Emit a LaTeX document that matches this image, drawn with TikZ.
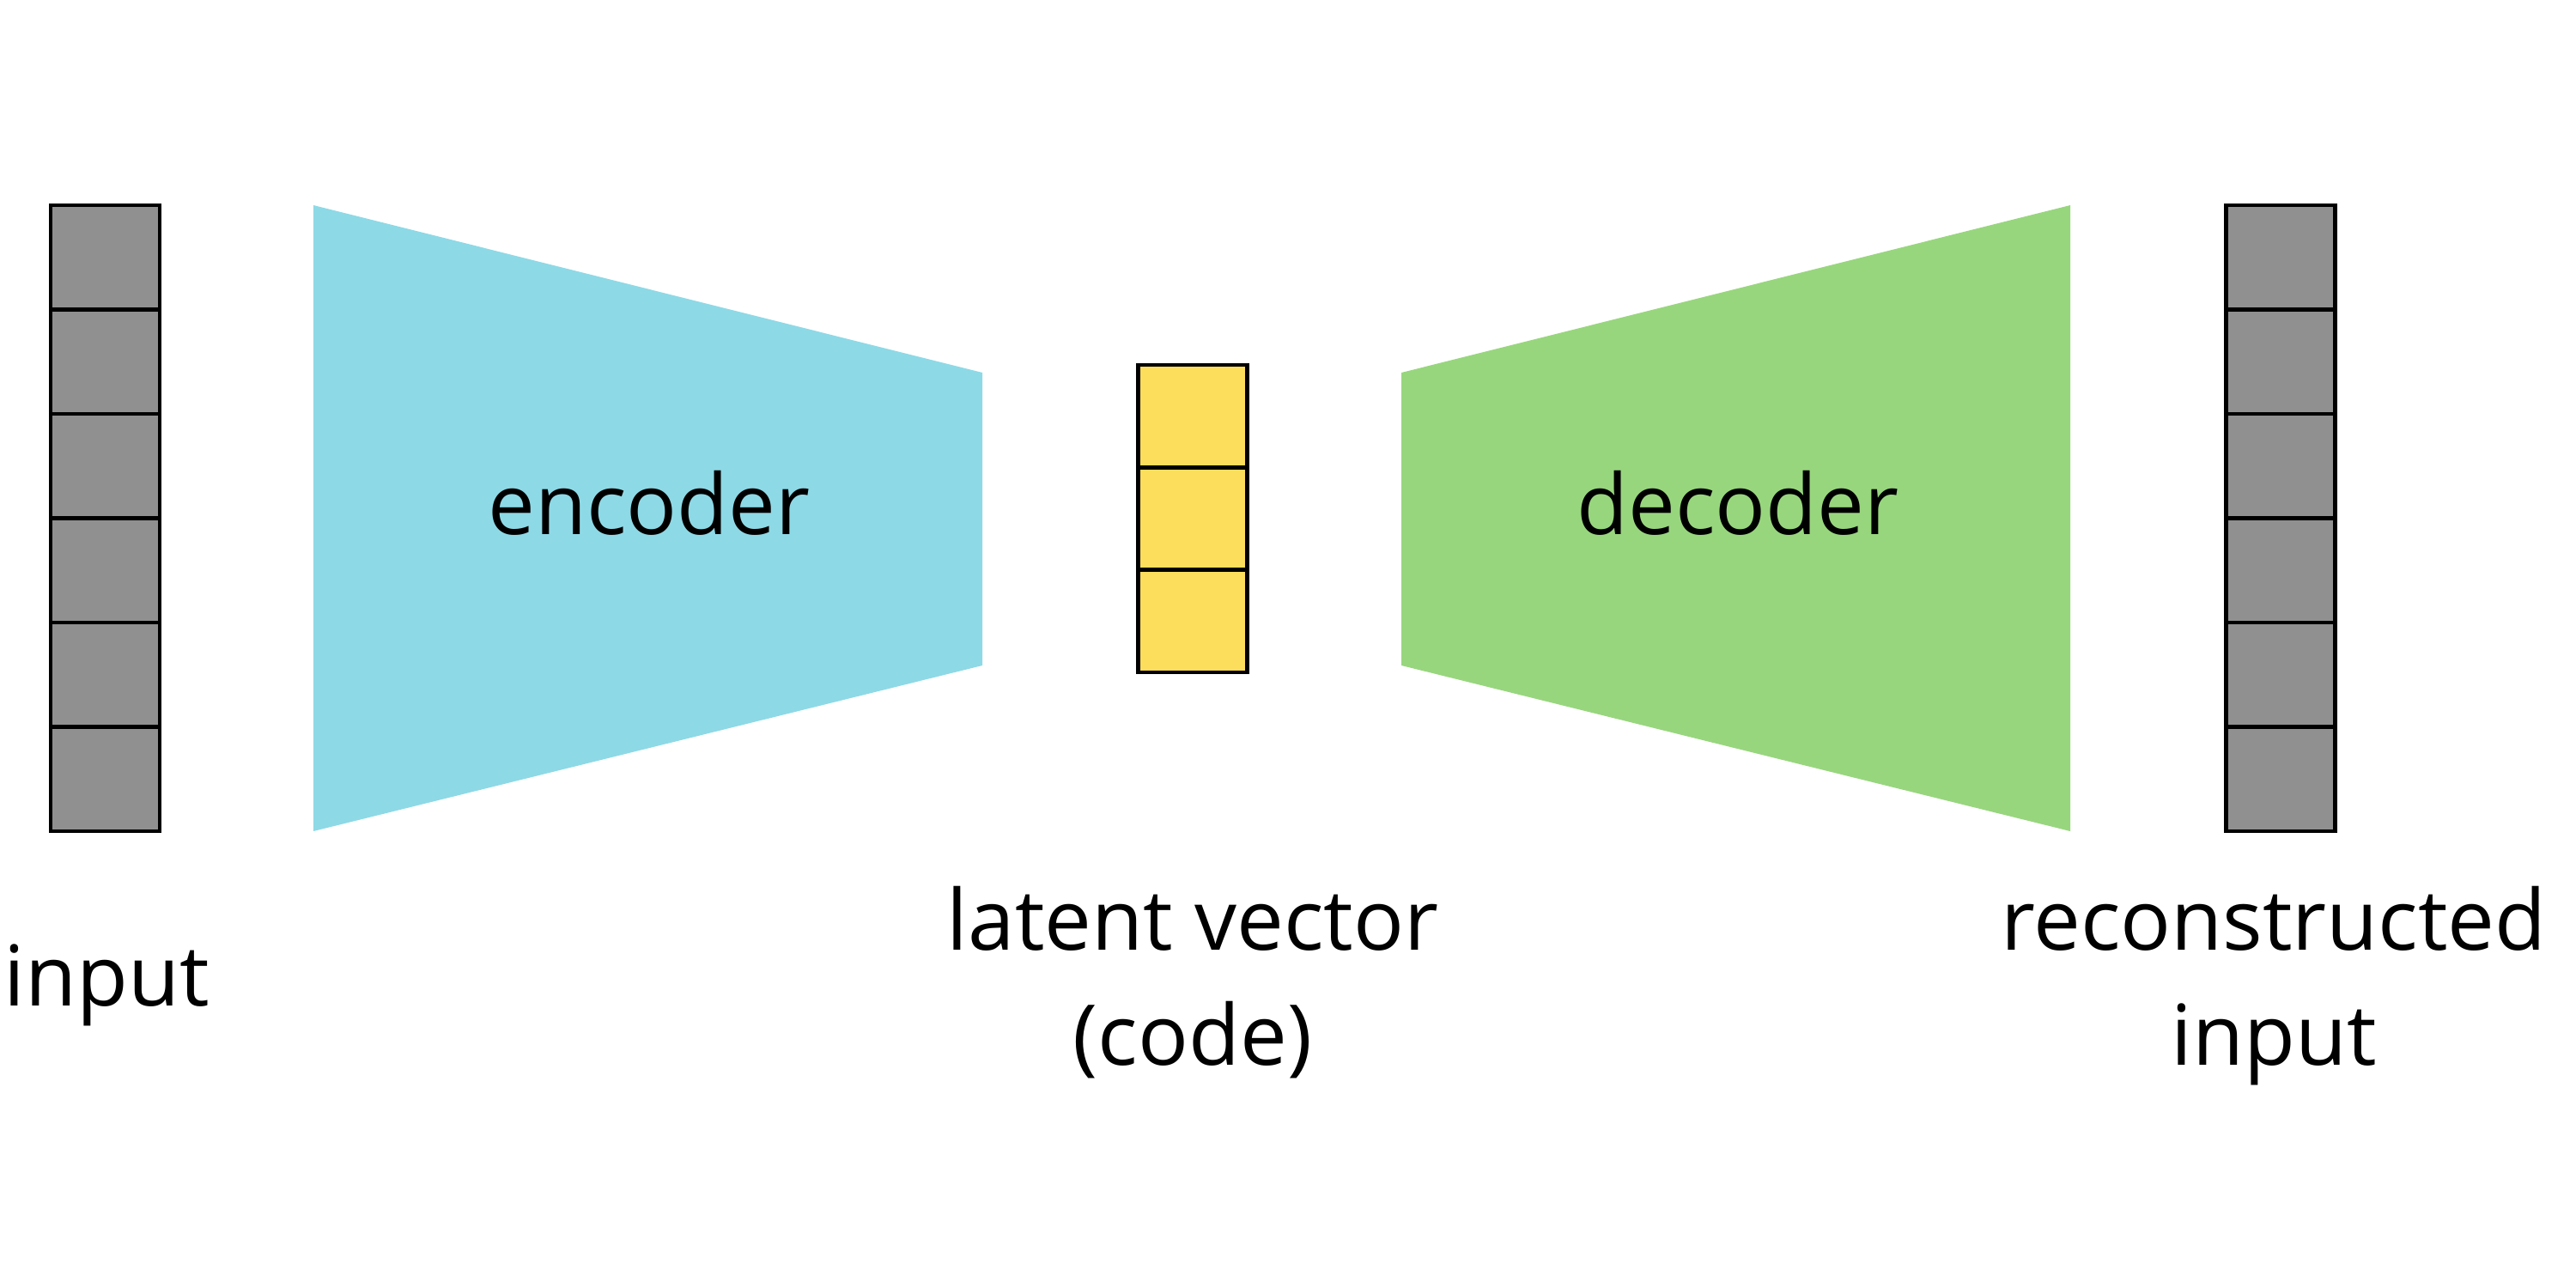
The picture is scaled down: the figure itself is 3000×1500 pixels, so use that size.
\documentclass[tikz,border=0pt]{standalone}
\usepackage{fontspec}
\setmainfont{Open Sans}
\definecolor{cellgray}{HTML}{909090}
\definecolor{encblue}{HTML}{8ED9E6}
\definecolor{decgreen}{HTML}{98D67E}
\definecolor{latyellow}{HTML}{FDDD5C}
\begin{document}
\begin{tikzpicture}[x=0.01cm,y=-0.01cm,
  cellbox/.style={draw=black, line width=1.3pt, minimum width=1.27cm, inner sep=0pt},
  graycell/.style={cellbox, fill=cellgray, minimum height=1.215cm},
  yellowcell/.style={cellbox, fill=latyellow, minimum height=1.193cm},
  lbl/.style={font=\fontsize{27.8pt}{38pt}\selectfont, align=center, inner sep=0pt, anchor=base}]
\useasboundingbox (0,0) rectangle (3000,1500);
% encoder / decoder bodies
\fill[encblue] (365,239) coordinate (e1) -- (1144,434) coordinate (e2) -- (1144,775) coordinate (e3) -- (365,968) coordinate (e4) -- cycle;
\fill[decgreen] (1632,434) coordinate (d1) -- (2411,239) coordinate (d2) -- (2411,968) coordinate (d3) -- (1632,775) coordinate (d4) -- cycle;
\node[lbl] (enc) at (756,622) {encoder};
\node[lbl] (dec) at (2024,622) {decoder};
% input and output columns
\foreach \i/\yy in {0/299.75,1/421.25,2/542.75,3/664.25,4/785.75,5/907.25}{
  \node[graycell] (in\i) at (122.5,\yy) {};
  \node[graycell] (out\i) at (2656,\yy) {};
}
% latent
\foreach \i/\yy in {0/484.7,1/604,2/723.3}{
  \node[yellowcell] (lat\i) at (1389,\yy) {};
}
% labels
\node[lbl] (inlbl) at (124,1171) {input};
\node[lbl] (latlbl) at (1389,1240) {latent vector\\(code)};
\node[lbl] (outlbl) at (2648,1240) {reconstructed\\input};
\end{tikzpicture}
\end{document}
